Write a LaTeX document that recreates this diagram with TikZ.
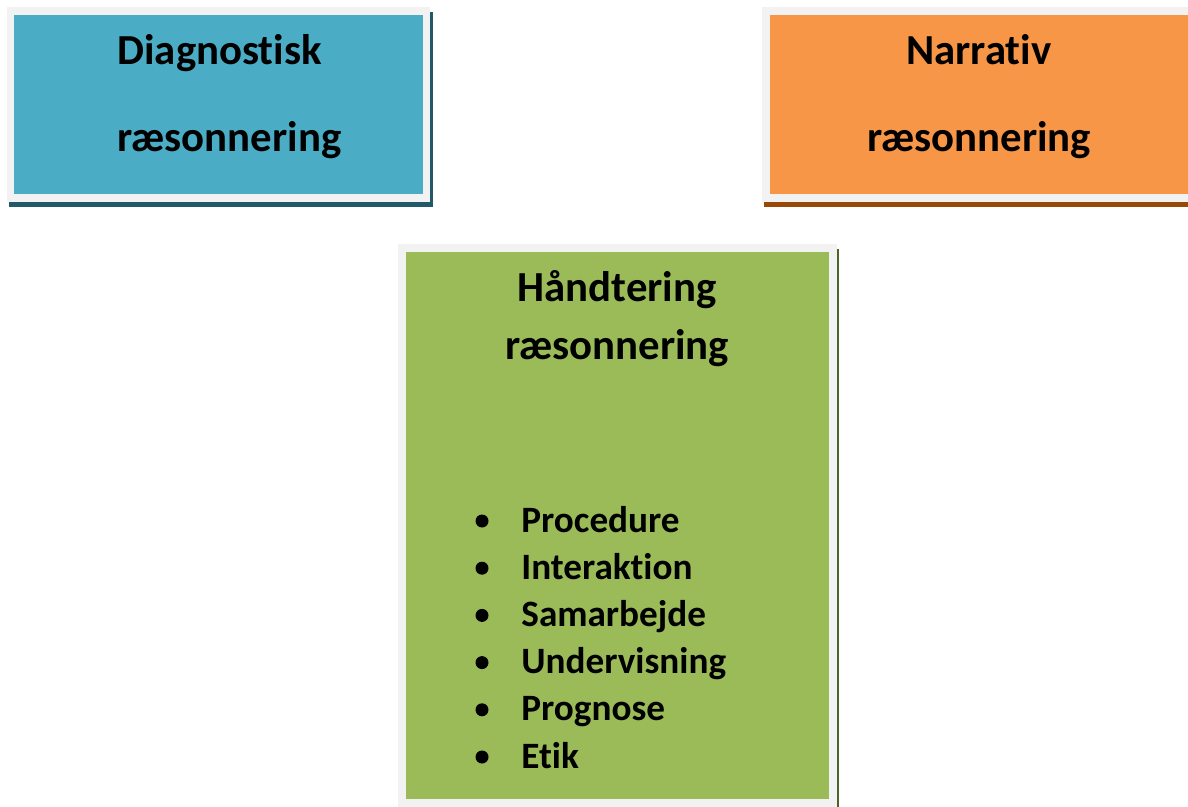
\documentclass[tikz,border=0pt]{standalone}
\usepackage{fontspec}
\setmainfont{Carlito}[Ligatures=NoCommon]
\usepackage{xcolor}
\usepackage{tikz}
\usetikzlibrary{positioning}
\usetikzlibrary{calc}
\definecolor[named]{frameGray}{HTML}{F2F2F2}
\definecolor[named]{diagBlue}{HTML}{4BACC6}
\definecolor[named]{diagShadow}{HTML}{215968}
\definecolor[named]{narrOrange}{HTML}{F79646}
\definecolor[named]{narrShadow}{HTML}{984807}
\definecolor[named]{handGreen}{HTML}{9BBB59}
\definecolor[named]{handShadow}{HTML}{4F6228}

\begin{document}
\begin{tikzpicture}[x=0.5pt,y=-0.5pt]
   \useasboundingbox (0,0) rectangle (1188,807);
   \clip (0,0) rectangle (1188,807);
   \tikzstyle{headtext}=[inner sep=0pt,anchor=base,font=\bfseries\fontsize{21.4}{26}\selectfont];
   \tikzstyle{itemtext}=[inner sep=0pt,anchor=base west,font=\bfseries\fontsize{18.6}{22}\selectfont];
   \tikzstyle{itemdot}=[circle,fill=black,inner sep=0pt,minimum size=6.5pt];
   % diagnostisk
   \fill[diagShadow] (9,12) rectangle (433,207);
   \fill[frameGray] (7,7) rectangle (430,202);
   \fill[diagBlue] (14,15) rectangle (423,194);
   \node[headtext,anchor=base west] (diag1) at (117,65) {Diagnostisk};
   \node[headtext,anchor=base west] (diag2) at (117,152) {ræsonnering};
   % narrativ
   \fill[narrShadow] (764,12) rectangle (1200,207);
   \fill[frameGray] (762,7) rectangle (1200,202);
   \fill[narrOrange] (770,15) rectangle (1200,194);
   \node[headtext] (narr1) at (979,65) {Narrativ};
   \node[headtext] (narr2) at (979,152) {ræsonnering};
   % haandtering
   \fill[handShadow] (400,249) rectangle (839,820);
   \fill[frameGray] (398,244) rectangle (837,820);
   \fill[handGreen] (406,252) rectangle (829,799);
   \node[headtext] (hand1) at (617,302) {Håndtering};
   \node[headtext] (hand2) at (617,360) {ræsonnering};
   \foreach \w [count=\i] in {Procedure,Interaktion,Samarbejde,Undervisning,Prognose,Etik} {
      \node[itemtext] (item\i) at (521,{532+47.2*(\i-1)}) {\w};
      \node[itemdot] (dot\i) at (482,{521+47.2*(\i-1)}) {};
   }
\end{tikzpicture}
\end{document}
